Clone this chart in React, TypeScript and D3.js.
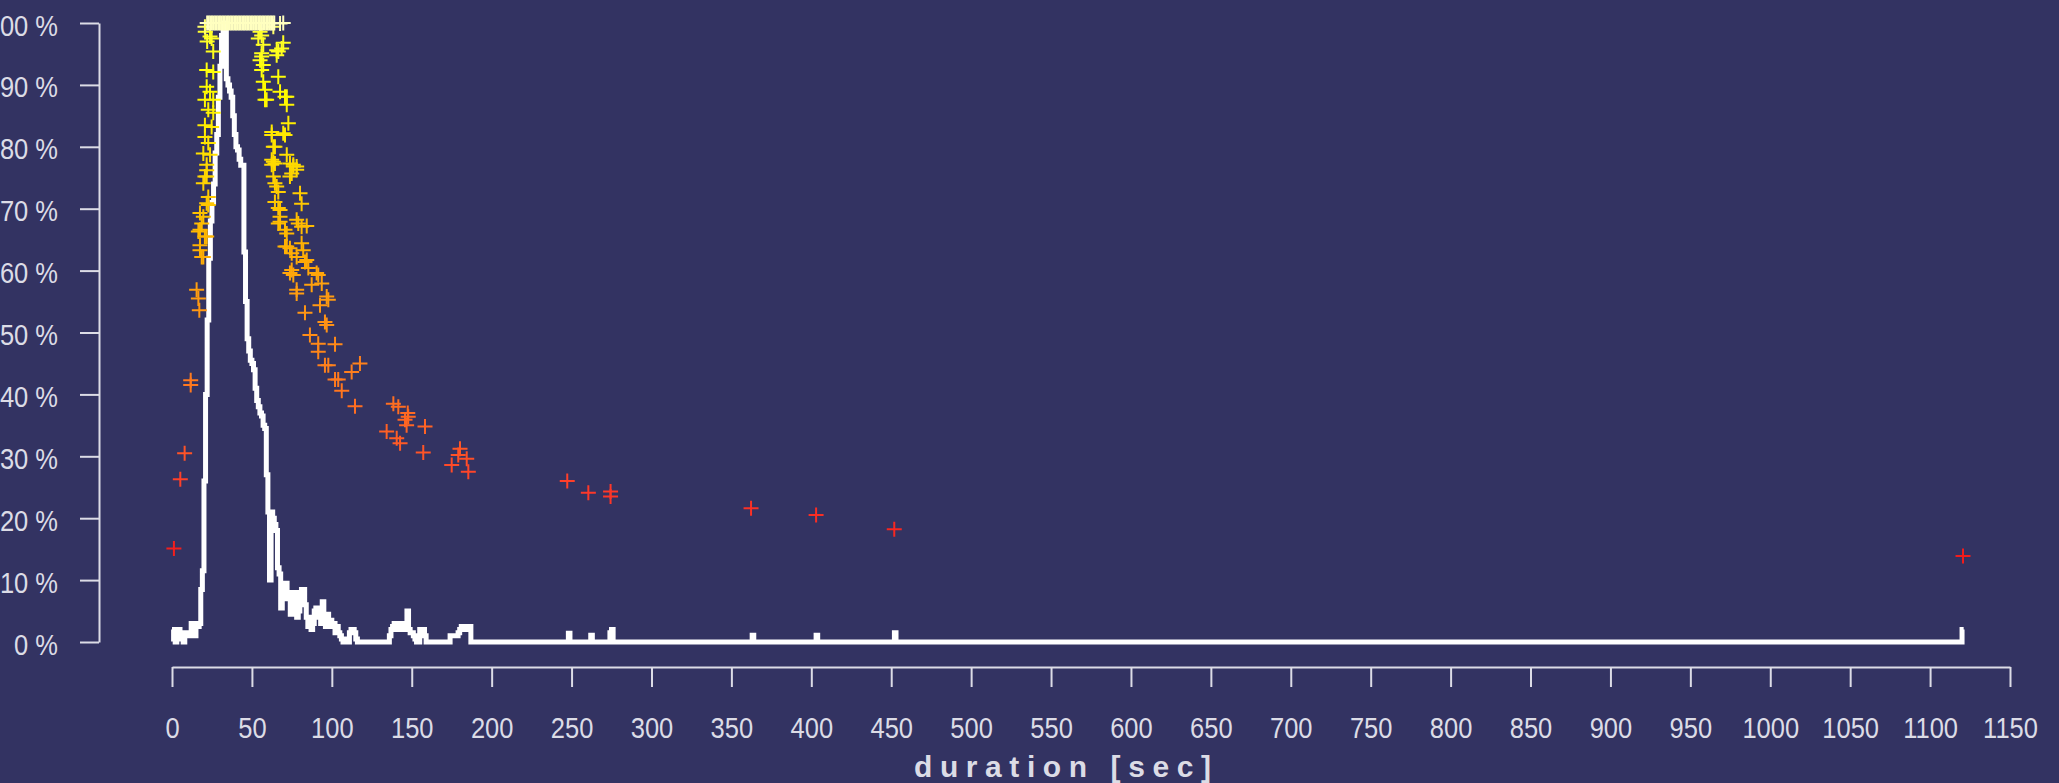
import React, { useEffect, useRef } from "react";
import * as d3 from "d3";

const W = 2059;
const H = 783;

// white line: share of sessions per 1 s bin, starting at 0 s
const linePct = [
  2, 0.5, 0, 1, 2, 1.5, 0.5, 0, 1.5, 1,
  1.5, 1, 3, 2, 1, 3, 2.5, 3, 8.5, 11.5,
  26, 40, 52, 62, 68, 71, 74, 79, 82, 88,
  93, 98, 100, 100, 91, 90, 89, 88, 85, 82,
  80, 79.5, 78, 77, 77, 63, 55, 49, 47, 45.5,
  45, 44, 41, 39, 38, 37, 36.5, 35, 34.5, 27,
  21, 10, 21, 20, 19, 18, 12, 11, 5.5, 9,
  8, 9.5, 7, 8, 4.5, 7.5, 5, 8, 4, 5,
  6.5, 8.5, 8.5, 6, 4, 2.5, 4, 2, 3, 5,
  5.5, 4, 5.5, 3, 6.5, 4, 2.5, 4.5, 3, 3.5,
  2.5, 3, 1.5, 2.5, 1.5, 1, 0.5, 0, 0.5, 0,
  0, 1.5, 2, 2, 1.5, 0.5, 0, 0, 0, 0,
  0, 0, 0, 0, 0, 0, 0, 0, 0, 0,
  0, 0, 0, 0, 0, 0, 1, 2, 2.5, 3,
  2, 3, 2.5, 3, 2, 3, 2, 5, 2, 1.5,
  1.5, 1, 0.5, 0, 0, 2, 2, 2, 1, 0,
  0, 0, 0, 0, 0, 0, 0, 0, 0, 0,
  0, 0, 0, 0, 1, 1, 1, 1, 1, 1.5,
  2, 2.5, 2.5, 2.5, 2, 2.5, 2.5, 0, 0, 0,
];

// sparse bins after 190 s: [sec, pct]
const lineTail: [number, number][] = [
  [247, 0], [248, 1.4], [249, 0], [262, 1.1], [263, 0],
  [274, 1.5], [275, 2], [276, 0], [363, 1.1], [364, 0],
  [403, 1.1], [404, 0], [452, 1.5], [453, 0], [1120, 2], [1121, 2],
];

// "+" markers: [sec, pct]
const markers: [number, number][] = [
  [1.2, 15.1], [5.2, 26.3], [7.9, 30.5], [11.7, 42.3], [11.7, 41.5],
  [15.4, 56.9], [16.5, 55.5], [17.1, 53.6],
  [16.5, 66.3], [17.5, 63.3], [17.5, 64.1], [17.5, 69.3], [17.5, 66.6],
  [18.6, 67.6], [18.6, 62.2], [19.6, 62.2], [19.6, 68.7], [19.6, 74.1],
  [19.6, 78.9], [20.6, 65.5], [20.6, 75.2], [20.6, 81.6], [20.6, 83.5],
  [20.6, 87.6], [20.8, 98.6], [20.6, 99.4], [21.7, 92.4], [21.7, 89.7],
  [21.7, 77.1], [21.7, 75.2], [21.7, 76.2], [21.7, 70.9], [21.7, 65.5],
  [22, 97], [22.7, 86], [22.7, 80.6], [22.7, 71.9], [22.7, 70.6],
  [23.8, 97.8], [23.8, 88.9], [23.8, 78.7], [24.8, 83.2], [24.8, 97.5],
  [25.8, 95.4], [25.8, 92.1], [25.8, 87.6], [25.8, 85.5],
  [54, 97.5], [55.1, 98.6], [56.1, 98], [56.1, 95.1], [55.1, 94],
  [56.1, 94.6], [57.1, 93.2], [56.1, 92.4], [57.1, 90.5], [58.2, 89.2],
  [58.2, 87.6], [59.2, 87.6], [57.1, 96.5], [63.4, 99.4], [67.6, 99.9],
  [69.6, 100], [68.6, 95.9], [69.6, 96.8], [65.5, 94.8], [65.5, 95.6],
  [66.5, 95.4], [66.5, 91.3], [67.6, 88.9], [71.8, 88.1], [70.7, 88.1],
  [71.8, 86.8], [72.8, 83.8], [62.4, 82.4], [62.4, 81.9], [70.7, 81.9],
  [69.6, 82.2], [63.4, 80], [64.4, 80], [71.8, 78.7], [62.4, 77.9],
  [63.4, 77.6], [62.4, 77.1], [64.4, 77.3], [73.8, 77.3], [75.9, 77.1],
  [78, 76.8], [75.9, 76.8], [78, 76.3], [74.9, 75.7], [73.8, 75.2],
  [63.4, 75.2], [64.4, 74.1], [65.5, 73.6], [66.5, 72.7], [80.1, 72.5],
  [64.4, 71.1], [81.1, 70.8], [66.5, 70.1], [67.6, 69.8], [78, 68.2],
  [67.6, 68.7], [67.6, 67.9], [66.5, 67.6], [79, 67.6], [84.3, 67.2],
  [81.1, 67.1], [70.7, 66.6], [71.8, 66], [81.1, 64.4], [71.8, 63.9],
  [70.7, 63.9], [73.8, 63.6], [82.1, 63.3], [74.9, 62.8], [78, 62.2],
  [84.3, 61.7], [83.2, 61.4], [85.3, 60.4], [74.9, 60.1], [73.8, 59.6],
  [75.9, 59.3], [90.5, 59.6], [91.5, 59.3], [93.7, 57.9], [87.4, 57.7],
  [78, 56.9], [78, 56.3], [96.8, 55.8], [97.8, 55.3], [92.6, 54.4],
  [83.2, 53.2], [95.7, 51.7], [96.8, 51.2], [86.3, 49.6], [91.5, 48.2],
  [102, 48.1], [91.5, 46.9], [95.7, 44.7], [97.8, 44.7], [117.6, 45],
  [112.4, 43.6], [102, 42.4], [104, 42.4], [106.2, 40.6], [114.5, 38.1],
  [138.5, 38.5], [141.6, 38], [145.8, 35.9], [147.8, 36.4], [146.8, 35],
  [147.5, 37], [158.3, 34.8], [134.3, 34], [140.6, 32.9], [142.7, 32.1],
  [157.2, 30.6], [180.2, 31.2], [179.1, 30.2], [175, 28.6], [184.4, 29.6],
  [185.4, 27.5],
  [247.3, 26], [260.5, 24.1], [274.4, 24.3], [274.4, 23.5], [362.3, 21.6],
  [403, 20.5], [451.9, 18.2], [1120.6, 13.9],
];

// durations whose markers sit on the 100 % ceiling
const fullSec = [
  22, 23, 24, 25, 26, 27, 28, 29, 30, 31, 32, 33, 34, 35, 36, 37, 38,
  39, 40, 41, 42, 43, 44, 45, 46, 47, 48, 49, 50, 51, 52, 53, 54, 55,
  56, 57, 58, 59, 60, 61, 62, 63, 64,
];

const xTicks = [
  0, 50, 100, 150, 200, 250, 300, 350, 400, 450, 500, 550, 600, 650,
  700, 750, 800, 850, 900, 950, 1000, 1050, 1100, 1150,
];
const yTicks = [0, 10, 20, 30, 40, 50, 60, 70, 80, 90, 100];

const BG = "#333362";
const FG = "#dcdce6";

const App = () => {
  const svgRef = useRef<SVGSVGElement>(null);

  useEffect(() => {
    const svg = d3.select(svgRef.current);
    svg.selectAll("*").remove();

    svg.append("rect").attr("width", W).attr("height", H).attr("fill", BG);

    const x = d3.scaleLinear().domain([0, 1150]).range([172, 2010]);
    const y = d3.scaleLinear().domain([0, 100]).range([642, 23]);

    const color = d3
      .scaleLinear<string>()
      .domain([14, 25, 32, 42, 55, 65, 75, 90, 99, 100])
      .range([
        "#f21c1c", "#ff3a2a", "#ff5a26", "#ff7a1e", "#ff9a12",
        "#ffb400", "#ffd400", "#ffff00", "#ffff30", "#ffffc0",
      ])
      .clamp(true);

    // Y axis
    const yAxis = svg
      .append("g")
      .attr("transform", "translate(99,0)")
      .call(d3.axisLeft(y).tickValues(yTicks).tickSize(19).tickSizeOuter(0));
    yAxis.select(".domain").attr("stroke", FG).attr("stroke-width", 2);
    yAxis.selectAll(".tick line").attr("stroke", FG).attr("stroke-width", 2);
    yAxis
      .selectAll(".tick text")
      .attr("x", -41 / 0.85)
      .attr("dy", "0.4em")
      .attr("transform", "scale(0.85,1)")
      .attr("fill", FG)
      .style("font-family", "Liberation Sans, Arial, sans-serif")
      .style("font-size", "30px")
      .text((d: any) => `${d} %`);

    // X axis
    const xAxis = svg
      .append("g")
      .attr("transform", "translate(0,667)")
      .call(
        d3
          .axisBottom(x)
          .tickValues(xTicks)
          .tickFormat(d3.format("d"))
          .tickSize(20)
          .tickSizeOuter(0)
      );
    xAxis.select(".domain").attr("stroke", FG).attr("stroke-width", 2);
    xAxis.selectAll(".tick line").attr("stroke", FG).attr("stroke-width", 2);
    xAxis
      .selectAll(".tick text")
      .attr("y", 71)
      .attr("dy", 0)
      .attr("transform", "scale(0.85,1)")
      .attr("fill", FG)
      .style("font-family", "Liberation Sans, Arial, sans-serif")
      .style("font-size", "30px");

    svg
      .append("text")
      .attr("x", 914)
      .attr("y", 777)
      .attr("textLength", 297)
      .attr("lengthAdjust", "spacing")
      .attr("fill", FG)
      .style("font-family", "Liberation Sans, Arial, sans-serif")
      .style("font-size", "30px")
      .style("font-weight", "bold")
      .text("duration [sec]");

    // white distribution line
    const pts: [number, number][] = linePct
      .map((v, i) => [i, v] as [number, number])
      .concat(lineTail);
    const line = d3
      .line<[number, number]>()
      .x((d) => x(d[0]))
      .y((d) => y(d[1]))
      .curve(d3.curveStepAfter);
    svg
      .append("path")
      .datum(pts)
      .attr("d", line)
      .attr("fill", "none")
      .attr("stroke", "#ffffff")
      .attr("stroke-width", 5)
      .attr("stroke-linejoin", "miter");

    // markers
    const all: [number, number][] = markers.concat(
      fullSec.map((s) => [s, 100] as [number, number])
    );
    svg
      .append("g")
      .selectAll("path")
      .data(all)
      .join("path")
      .attr("transform", (d) => `translate(${x(d[0])},${y(d[1])})`)
      .attr("d", "M-7.5,0H7.5M0,-7.5V7.5")
      .attr("fill", "none")
      .attr("stroke", (d) => color(d[1]))
      .attr("stroke-width", 2);
  }, []);

  return (
    <svg
      ref={svgRef}
      width={W}
      height={H}
      style={{ position: "absolute", left: 0, top: 0, display: "block" }}
    ></svg>
  );
};

export default App;
